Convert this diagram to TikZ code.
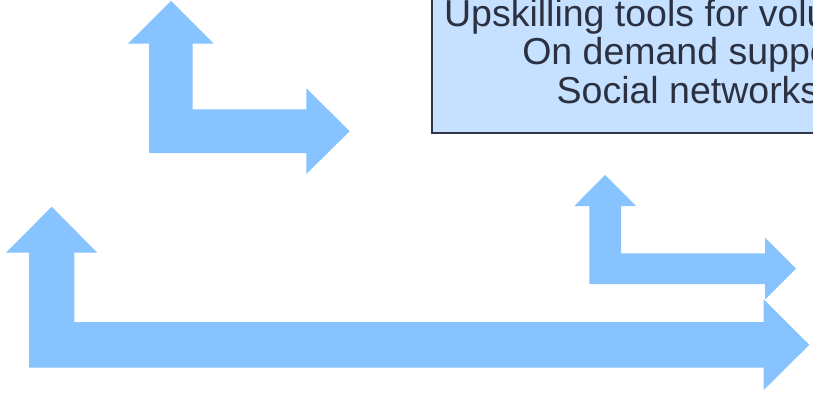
\documentclass[tikz,border=0pt]{standalone}
\usepackage{fontspec}
\setmainfont{Liberation Sans}
\definecolor{arrowblue}{HTML}{86C3FF}
\definecolor{boxfill}{HTML}{C5E1FF}
\definecolor{boxline}{HTML}{2F3747}
\definecolor{txtcol}{HTML}{2B3141}
\tikzset{
  bentarrow/.style={fill=arrowblue, draw=none},
  infobox/.style={fill=boxfill, draw=boxline, line width=2pt},
  boxline/.style={anchor=base, text=txtcol, inner sep=0pt, font=\fontsize{37.5}{42}\selectfont}
}
\begin{document}
\begin{tikzpicture}[x=1pt,y=-1pt]
\useasboundingbox (0,0) rectangle (813,393);
\clip (0,0) rectangle (813,393);
% info box
\path[infobox] (432,-30) rectangle (960,132.5);
\node[boxline] (l1) at (688,27) {Upskilling tools for volunteers};
\node[boxline] (l2) at (688,65) {On demand support};
\node[boxline] (l3) at (688,103) {Social networks};
% top-left bent arrow
\path[bentarrow] (171,1) -- (213.7,43.7) -- (192.7,43.7) -- (192.7,109.3)
  -- (306.3,109.3) -- (306.3,88.3) -- (349.7,131.2) -- (306.3,174)
  -- (306.3,153) -- (149,153) -- (149,43.7) -- (128,43.7) -- cycle;
% big bent arrow
\path[bentarrow] (51.7,206.7) -- (97.3,252.7) -- (74.3,252.7) -- (74.3,322)
  -- (763.7,322) -- (763.7,299.3) -- (809.3,344.8) -- (763.7,390)
  -- (763.7,367.7) -- (29,367.7) -- (29,252.7) -- (6,252.7) -- cycle;
% small bent arrow
\path[bentarrow] (605,175) -- (636,206) -- (621,206) -- (621,253.3)
  -- (765,253.3) -- (765,237.7) -- (796,268.7) -- (765,299.7)
  -- (765,284) -- (589.3,284) -- (589.3,206) -- (574.3,206) -- cycle;
\end{tikzpicture}
\end{document}
